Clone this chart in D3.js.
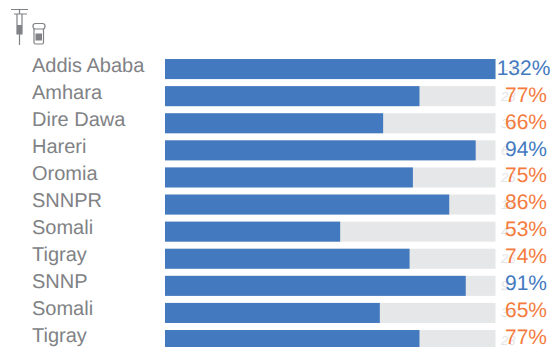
<!DOCTYPE html>
<html><head><meta charset="utf-8">
<script src="https://cdn.jsdelivr.net/npm/d3@7"></script>
<style>html,body{margin:0;padding:0;background:#fff;overflow:hidden}svg{display:block}text{font-family:"Liberation Sans",Arial,sans-serif;text-rendering:geometricPrecision}</style>
</head><body><svg id="c" width="552" height="347"></svg>
<script>
const regions=["Addis Ababa","Amhara","Dire Dawa","Hareri","Oromia","SNNPR","Somali","Tigray","SNNP","Somali","Tigray"];
const coverage=[132,77,66,94,75,86,53,74,91,65,77];
const ghostLabels=["-32","23","34","6","25","14","47","26","9","35","23"];
const threshold=90;
const blue="#4379bf",orange="#f47b3d",grey="#e6e7e8",labelGrey="#808285";
const svg=d3.select("#c");
const idx=d3.range(regions.length);
const y=d3.scaleBand().domain(idx).range([55.5,353.6]).paddingInner(0.26).paddingOuter(0.13);
const x=d3.scaleLinear().domain([0,100]).range([165,495.5]).clamp(true);
const textY=d3.scalePoint().domain(idx).range([67.5,336]);
const nameY=d3.scalePoint().domain(idx).range([65,335.5]);
const rows=svg.selectAll("g.row").data(idx).join("g").attr("class","row");
rows.append("rect").attr("x",x(0)).attr("y",i=>y(i)).attr("width",x(100)-x(0)).attr("height",y.bandwidth()).attr("fill",grey);
rows.append("rect").attr("x",x(0)).attr("y",i=>y(i)).attr("width",i=>x(coverage[i])-x(0)).attr("height",y.bandwidth()).attr("fill",blue);
rows.append("text").attr("x",32).attr("y",i=>nameY(i)+6.5).attr("font-size",20).attr("fill",labelGrey).text(i=>regions[i]);
rows.append("text").attr("x",i=>coverage[i]>=100?504:501).attr("y",i=>y(i)+y.bandwidth()/2+4.5).attr("font-size",13).attr("font-style","italic").attr("fill","#e4e4e4").text(i=>ghostLabels[i]);
rows.append("text").attr("x",i=>coverage[i]>=100?523.5:526).attr("y",i=>textY(i)+7.5).attr("text-anchor","middle").attr("font-size",21).attr("fill",i=>coverage[i]>=threshold?blue:orange).text(i=>coverage[i]+"%");
const ic=svg.append("g").attr("fill","none").attr("stroke",labelGrey);
ic.append("path").attr("d","M11 9.5H28M19.5 9.5V14M14 14H27M17 14V34H22V14M19.5 34V45").attr("stroke-width",1.2);
ic.append("rect").attr("x",17).attr("y",25).attr("width",5).attr("height",9).attr("fill",labelGrey).attr("stroke","none");
ic.append("rect").attr("x",33).attr("y",23.5).attr("width",12).attr("height",5.5).attr("rx",2.5).attr("stroke-width",1.2);
ic.append("path").attr("d","M34 29V42.5Q34 44 35.5 44H42Q43.5 44 43.5 42.5V29").attr("stroke-width",1.2);
ic.append("rect").attr("x",35.5).attr("y",33.5).attr("width",6.5).attr("height",7).attr("fill",labelGrey).attr("stroke","none");
</script></body></html>
